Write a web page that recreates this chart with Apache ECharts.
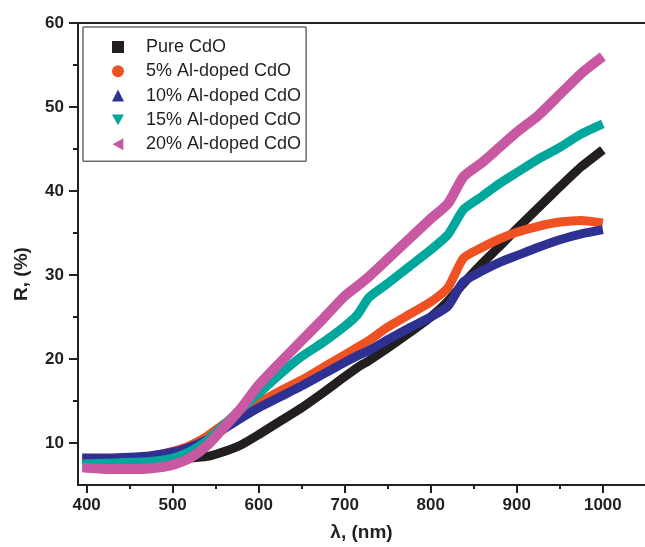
<!DOCTYPE html>
<html>
<head>
<meta charset="utf-8">
<script src="https://cdn.jsdelivr.net/npm/echarts@6/dist/echarts.min.js"></script>
<style>
  html, body { margin: 0; padding: 0; background: #fff; }
  #chart { width: 645px; height: 547px; }
</style>
</head>
<body>
<div id="chart"></div>
<script>
// wavelength (nm), shared by all curves
var wavelength = [395, 425, 450, 475, 500, 520, 540, 560, 580, 600, 625, 650, 675, 700, 715, 728, 750, 775, 800, 820, 838, 860, 880, 900, 925, 950, 975, 1000];

// reflectance R (%)
var pureCdO = [8.1, 8.1, 8.1, 8.1, 8.1, 8.2, 8.4, 9.0, 9.8, 11.0, 12.6, 14.2, 16.0, 17.9, 19.0, 19.8, 21.3, 23.1, 25.0, 26.9, 29.0, 31.4, 33.4, 35.5, 38.0, 40.5, 42.9, 44.9];
var al5 = [8.0, 8.0, 8.1, 8.4, 9.0, 9.7, 10.8, 12.3, 13.6, 14.8, 16.2, 17.5, 19.0, 20.5, 21.4, 22.2, 23.8, 25.3, 26.8, 28.5, 32.0, 33.3, 34.3, 35.1, 35.8, 36.3, 36.5, 36.2];
var al10 = [8.2, 8.2, 8.3, 8.5, 8.9, 9.5, 10.4, 11.7, 13.0, 14.2, 15.5, 16.8, 18.2, 19.6, 20.4, 21.0, 22.3, 23.7, 25.0, 26.3, 29.2, 30.5, 31.5, 32.3, 33.3, 34.2, 34.9, 35.4];
var al15 = [7.5, 7.6, 7.7, 7.8, 8.2, 9.0, 10.3, 12.2, 14.1, 15.9, 18.2, 20.3, 22.0, 23.9, 25.3, 27.3, 29.0, 31.0, 33.0, 34.8, 37.8, 39.4, 40.9, 42.2, 43.8, 45.2, 46.8, 48.0];
var al20 = [7.1, 6.9, 6.9, 7.0, 7.4, 8.2, 9.7, 11.9, 14.2, 16.9, 19.6, 22.2, 24.8, 27.5, 28.7, 29.8, 31.9, 34.3, 36.7, 38.5, 41.7, 43.4, 45.2, 47.0, 49.0, 51.5, 54.0, 56.0];

var seriesNames = ['Pure CdO', '5% Al-doped CdO', '10% Al-doped CdO', '15% Al-doped CdO', '20% Al-doped CdO'];
var seriesColors = ['#231f20', '#f05123', '#2e3192', '#00a79d', '#c858a1'];
var legendIcons = ['rect', 'circle', 'triangle', 'path://M0,0L10,0L5,9Z', 'path://M9,0L9,10L0,5Z'];

var xMajor = [400, 500, 600, 700, 800, 900, 1000];
var xMinor = [450, 550, 650, 750, 850, 950];
var yMajor = [10, 20, 30, 40, 50, 60];
var yMinor = [15, 25, 35, 45, 55];

var ink = '#231f20';
var font = 'Liberation Sans, Arial, sans-serif';

function pairs(ys) {
    var out = [];
    for (var i = 0; i < wavelength.length; i++) {
        out.push([wavelength[i], ys[i]]);
    }
    return out;
}

var allY = [pureCdO, al5, al10, al15, al20];
var series = [];
for (var i = 0; i < allY.length; i++) {
    series.push({
        name: seriesNames[i],
        type: 'line',
        data: pairs(allY[i]),
        smooth: 0.2,
        showSymbol: false,
        symbol: 'none',
        xAxisIndex: 0,
        yAxisIndex: 0,
        lineStyle: { width: i === 4 ? 10 : 9, color: seriesColors[i], cap: 'butt', join: 'round' },
        itemStyle: { color: seriesColors[i] },
        emphasis: { disabled: true }
    });
}

var legendData = [];
for (var j = 0; j < seriesNames.length; j++) {
    legendData.push({ name: seriesNames[j], icon: legendIcons[j] });
}

var xMin = 390, xMax = 1049;
var axisLine = { show: true, onZero: false, lineStyle: { color: ink, width: 2 } };
var plain = function (v) { return String(v); };

// axis 0 carries majors + labels, axis 1 only minor ticks, x axis 2 is the top frame line
var option = {
    animation: false,
    backgroundColor: '#fff',
    grid: { left: 78, right: 0, top: 23, bottom: 60 },
    legend: {
        orient: 'vertical',
        left: 83, top: 27,
        padding: [11, 5, 8, 29],
        itemWidth: 12, itemHeight: 12,
        itemGap: 6.3,
        borderColor: ink, borderWidth: 1,
        backgroundColor: '#fff',
        selectedMode: false,
        data: legendData,
        textStyle: { fontFamily: font, fontSize: 18, color: ink, lineHeight: 18, padding: [0, 0, 0, 17] }
    },
    xAxis: [{
        type: 'value', min: xMin, max: xMax,
        name: 'λ, (nm)', nameLocation: 'middle', nameGap: 38,
        nameTextStyle: { fontFamily: font, fontSize: 19, fontWeight: 'bold', color: ink },
        axisLine: axisLine,
        splitLine: { show: false },
        axisTick: { show: true, inside: false, length: 8, customValues: xMajor, lineStyle: { color: ink, width: 2 } },
        axisLabel: { show: true, customValues: xMajor, formatter: plain, margin: 12, fontFamily: font, fontSize: 17, fontWeight: 'bold', color: ink }
    }, {
        type: 'value', min: xMin, max: xMax, position: 'bottom',
        axisLine: { show: false },
        splitLine: { show: false },
        axisTick: { show: true, inside: false, length: 4, customValues: xMinor, lineStyle: { color: ink, width: 2 } },
        axisLabel: { show: false }
    }, {
        type: 'value', min: xMin, max: xMax, position: 'top',
        axisLine: axisLine,
        splitLine: { show: false },
        axisTick: { show: false },
        axisLabel: { show: false }
    }],
    yAxis: [{
        type: 'value', min: 5, max: 60,
        axisLine: axisLine,
        splitLine: { show: false },
        axisTick: { show: true, inside: false, length: 9, customValues: yMajor, lineStyle: { color: ink, width: 2 } },
        axisLabel: { show: true, customValues: yMajor, formatter: plain, margin: 14, fontFamily: font, fontSize: 17, fontWeight: 'bold', color: ink }
    }, {
        type: 'value', min: 5, max: 60, position: 'left',
        axisLine: { show: false },
        splitLine: { show: false },
        axisTick: { show: true, inside: false, length: 5, customValues: yMinor, lineStyle: { color: ink, width: 2 } },
        axisLabel: { show: false }
    }],
    graphic: [{
        type: 'text',
        x: 22, y: 274,
        rotation: Math.PI / 2,
        style: {
            text: 'R, (%)',
            fontFamily: font, fontSize: 19, fontWeight: 'bold', fill: ink,
            textAlign: 'center', textVerticalAlign: 'middle'
        }
    }],
    series: series
};

var chart = echarts.init(document.getElementById('chart'));
chart.setOption(option);
</script>
</body>
</html>
